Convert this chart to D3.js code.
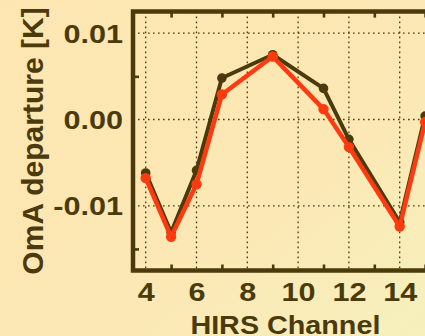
<!DOCTYPE html>
<html>
<head>
<meta charset="utf-8">
<script src="https://cdn.jsdelivr.net/npm/d3@7"></script>
<style>
  html, body { margin: 0; padding: 0; background: #fde6b2; }
  svg { display: block; }
  text { font-family: "Liberation Sans", Arial, sans-serif; font-weight: bold; fill: #4b3a0c; }
</style>
</head>
<body>
<script>
// HIRS channels with plotted OmA departures
const channels = [4, 5, 6, 7, 9, 11, 12, 14, 15];
const seriesDark = [-0.0062, -0.0131, -0.0059, 0.0048, 0.0075, 0.0036, -0.0023, -0.0119, 0.0004];
const seriesRed  = [-0.0068, -0.0136, -0.0075, 0.0029, 0.0073, 0.0012, -0.0032, -0.0124, -0.0003];
const xLabelTicks = [4, 6, 8, 10, 12, 14];
const xMinorTicks = [5, 7, 9, 11, 13, 15];
const yLabelTicks = [-0.01, 0.00, 0.01];
const yMinorTicks = [-0.015, 0.005];

const W = 425, H = 336;
const ink = "#4b3a0c";
const redCol = "#ff3a0e";

const svg = d3.select("body").append("svg").attr("width", W).attr("height", H);

// soft background wash
const defs = svg.append("defs");
const grad = defs.append("linearGradient").attr("id", "bg")
  .attr("x1", "0").attr("y1", "0").attr("x2", "1").attr("y2", "1");
grad.append("stop").attr("offset", "0").attr("stop-color", "#fde6b2");
grad.append("stop").attr("offset", "0.6").attr("stop-color", "#fce8b4");
grad.append("stop").attr("offset", "1").attr("stop-color", "#f6f0bd");
svg.append("rect").attr("width", W).attr("height", H).attr("fill", "url(#bg)");

const x = d3.scaleLinear().domain([3.5, 15.5]).range([133, 133 + 12 * 25.4]);
const y = d3.scaleLinear().domain([-0.0175, 0.0125]).range([270.5, 11.6]);

const x0 = x.range()[0], x1 = x.range()[1];
const y0 = y.range()[0], y1 = y.range()[1];

// dotted grid
const grid = svg.append("g").attr("stroke", ink).attr("stroke-width", 1.3)
  .attr("stroke-dasharray", "1.6,3.4");
grid.selectAll(".vg").data(xLabelTicks).join("line")
  .attr("x1", d => x(d)).attr("x2", d => x(d)).attr("y1", y1).attr("y2", y0);
grid.selectAll(".hg").data(yLabelTicks).join("line")
  .attr("y1", d => y(d)).attr("y2", d => y(d)).attr("x1", x0).attr("x2", x1);

// inward minor ticks on bottom, top and left
function tickAxis(g, axis) {
  g.call(axis);
  g.select(".domain").remove();
  g.selectAll(".tick line").attr("stroke", ink).attr("stroke-width", 2.6);
  g.selectAll(".tick text").remove();
}
svg.append("g").attr("transform", `translate(0,${y0})`)
  .call(g => tickAxis(g, d3.axisBottom(x).tickValues(xMinorTicks).tickSize(-6)));
svg.append("g").attr("transform", `translate(0,${y1})`)
  .call(g => tickAxis(g, d3.axisTop(x).tickValues(xMinorTicks).tickSize(-6)));
svg.append("g").attr("transform", `translate(${x0},0)`)
  .call(g => tickAxis(g, d3.axisLeft(y).tickValues(yMinorTicks).tickSize(-6)));

// frame
svg.append("path")
  .attr("d", `M${x1},${y1}H${x0}V${y0}H${x1}`)
  .attr("fill", "none").attr("stroke", ink).attr("stroke-width", 4.5)
  .attr("stroke-linejoin", "miter");

// tick labels (wide bold lettering)
const labelSize = 25.5, labelStretch = 1.2;
const xAx = svg.append("g").attr("transform", `translate(0,${y0})`)
  .call(d3.axisBottom(x).tickValues(xLabelTicks).tickSize(0).tickPadding(0).tickFormat(d3.format("d")));
xAx.select(".domain").remove();
xAx.selectAll(".tick text").attr("font-size", labelSize).attr("y", 0).attr("dy", 30.5)
  .attr("transform", `scale(${labelStretch},1)`)
  .attr("fill", ink).attr("font-family", "Liberation Sans, Arial, sans-serif").attr("font-weight", "bold");

const fmtY = d => d3.format(".2f")(d).replace("\u2212", "-");
const yAx = svg.append("g").attr("transform", `translate(123,0)`)
  .call(d3.axisLeft(y).tickValues(yLabelTicks).tickSize(0).tickPadding(0).tickFormat(fmtY));
yAx.select(".domain").remove();
yAx.selectAll(".tick text").attr("font-size", labelSize).attr("x", 0).attr("dy", "0.36em")
  .attr("transform", `scale(${labelStretch},1)`)
  .attr("fill", ink).attr("font-family", "Liberation Sans, Arial, sans-serif").attr("font-weight", "bold");

// axis titles
svg.append("text").attr("x", (x0 + x1) / 2).attr("y", 333.5).attr("text-anchor", "middle")
  .attr("font-size", labelSize).attr("textLength", 190).attr("lengthAdjust", "spacingAndGlyphs")
  .text("HIRS Channel");
svg.append("text").attr("transform", "translate(43,141) rotate(-90)")
  .attr("text-anchor", "middle").attr("font-size", 30).text("OmA departure [K]");

// series
const line = d3.line().x(d => x(d[0])).y(d => y(d[1]));
function drawSeries(vals, color, lw, r) {
  const pts = channels.map((c, i) => [c, vals[i]]);
  svg.append("path").datum(pts).attr("d", line)
    .attr("fill", "none").attr("stroke", color).attr("stroke-width", lw)
    .attr("stroke-linejoin", "round");
  svg.append("g").selectAll("circle").data(pts).join("circle")
    .attr("cx", d => x(d[0])).attr("cy", d => y(d[1])).attr("r", r).attr("fill", color);
}
drawSeries(seriesDark, ink, 4, 4.8);
drawSeries(seriesRed, redCol, 4.5, 5.2);
</script>
</body>
</html>
